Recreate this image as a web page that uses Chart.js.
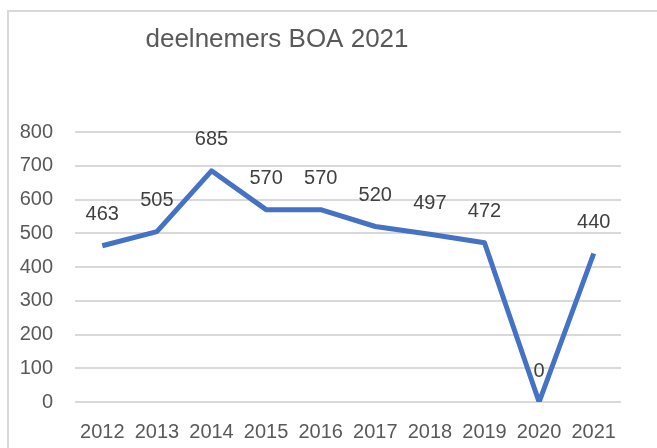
<!DOCTYPE html>
<html>
<head>
<meta charset="utf-8">
<script src="https://cdn.jsdelivr.net/npm/chart.js@4"></script>
<style>
  html, body { margin: 0; padding: 0; background: #fff; overflow: hidden; }
  #wrap { position: relative; width: 657px; height: 448px; overflow: hidden; }
  .edge { position: absolute; background: #d9d9d9; }
  #edgeTop { left: 7px; top: 10px; width: 650px; height: 2px; }
  #edgeLeft { left: 7px; top: 10px; width: 2px; height: 438px; }
  canvas { position: absolute; left: 0; top: 0; }
</style>
</head>
<body>
<div id="wrap">
  <div class="edge" id="edgeTop"></div>
  <div class="edge" id="edgeLeft"></div>
  <canvas id="chart" width="657" height="448"></canvas>
</div>
<script>
const titel = "deelnemers BOA 2021";
const years = ["2012", "2013", "2014", "2015", "2016", "2017", "2018", "2019", "2020", "2021"];
const deelnemers = [463, 505, 685, 570, 570, 520, 497, 472, 0, 440];
const yTicks = [0, 100, 200, 300, 400, 500, 600, 700, 800];

const fontFam = "'Liberation Sans', Arial, sans-serif";

// titel + labels boven de punten (geen datalabels plugin beschikbaar)
const extraText = {
  id: "extraText",
  afterDraw(chart) {
    const ctx = chart.ctx;
    ctx.save();
    ctx.font = "26px " + fontFam;
    ctx.fillStyle = "#595959";
    ctx.textAlign = "center";
    ctx.textBaseline = "middle";
    ctx.fillText(titel, 277, 40);
    ctx.restore();
  },
  afterDatasetsDraw(chart) {
    const ctx = chart.ctx;
    const meta = chart.getDatasetMeta(0);
    ctx.save();
    ctx.font = "20px " + fontFam;
    ctx.fillStyle = "#404040";
    ctx.textAlign = "center";
    ctx.textBaseline = "middle";
    meta.data.forEach((pt, i) => {
      ctx.fillText(String(deelnemers[i]), pt.x, pt.y - 31);
    });
    ctx.restore();
  },
};

new Chart(document.getElementById("chart"), {
  type: "line",
  data: {
    labels: years,
    datasets: [
      {
        data: deelnemers,
        borderColor: "#4472C4",
        borderWidth: 5,
        pointRadius: 0,
        tension: 0,
        borderJoinStyle: "round",
      },
    ],
  },
  options: {
    responsive: false,
    animation: false,
    layout: { padding: { top: 132, right: 36, bottom: 0, left: 0 } },
    plugins: {
      legend: { display: false },
      tooltip: { enabled: false },
      title: { display: false },
    },
    scales: {
      x: {
        offset: true,
        afterFit: (scale) => {
          scale.height = 46;
        },
        grid: { display: false, drawTicks: false },
        border: { display: false },
        ticks: {
          color: "#595959",
          font: { family: fontFam, size: 20 },
          padding: 18,
          maxRotation: 0,
          autoSkip: false,
        },
      },
      y: {
        min: 0,
        max: 800,
        afterBuildTicks: (scale) => {
          scale.ticks = yTicks.map((v) => ({ value: v }));
        },
        afterFit: (scale) => {
          scale.width = 75;
        },
        grid: { color: "#d9d9d9", lineWidth: 2, drawTicks: false },
        border: { display: false },
        ticks: {
          color: "#595959",
          font: { family: fontFam, size: 20 },
          padding: 22,
        },
      },
    },
  },
  plugins: [extraText],
});
</script>
</body>
</html>
